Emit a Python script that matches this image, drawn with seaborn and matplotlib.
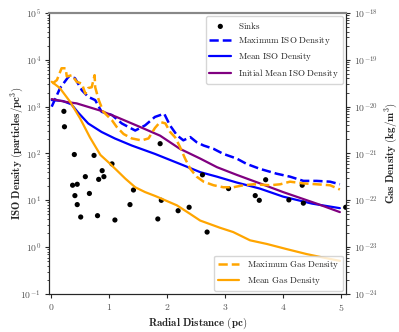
import numpy as np
import matplotlib
matplotlib.use("Agg")
import matplotlib.pyplot as plt
from matplotlib.ticker import FuncFormatter, FixedLocator, LogLocator
import seaborn as sns

sns.set_style("ticks")
plt.rcParams["mathtext.fontset"] = "cm"
plt.rcParams["font.family"] = ["DejaVu Serif"]

# ---- Data ----
# Sinks (radial distance pc, ISO density particles/pc^3)
sink_r = [0.22, 0.23, 0.37, 0.40, 0.41, 0.45, 0.45, 0.51, 0.59, 0.66, 0.74, 0.80, 0.82,
          0.88, 0.91, 1.05, 1.10, 1.36, 1.42, 1.84, 1.88, 1.90, 2.19, 2.38, 2.61, 2.69,
          3.06, 3.52, 3.59, 3.70, 4.10, 4.33, 4.35, 5.08]
sink_rho = [794, 372, 21, 95, 12.6, 22, 8.1, 4.4, 32, 14, 91, 4.7, 28,
            43, 32, 60, 3.8, 8.1, 16.6, 4.0, 162, 10, 6.0, 7.1, 35, 2.1,
            17.8, 12.6, 10, 27.5, 10.2, 21, 8.7, 7.1]

# Maximum ISO density
max_iso_r = [0.01, 0.155, 0.30, 0.41, 0.53, 0.64, 0.76, 0.87, 1.05, 1.22, 1.45, 1.62, 1.79,
             1.95, 2.05, 2.17, 2.28, 2.40, 2.51, 2.63, 2.80, 2.97, 3.20, 3.37, 3.60, 3.89,
             4.12, 4.35, 4.58, 4.81, 4.98]
max_iso = [1000, 2500, 4370, 4070, 2240, 1620, 1380, 776, 661, 437, 309, 398, 603,
           708, 398, 245, 191, 224, 174, 148, 126, 98, 78, 60, 47, 37,
           32, 26, 26, 25, 22]

# Mean ISO density
mean_iso_r = [0.01, 0.20, 0.35, 0.47, 0.64, 0.87, 1.10, 1.39, 1.79, 2.28, 2.57, 2.86,
              3.20, 3.60, 4.00, 4.50, 4.98]
mean_iso = [1380, 1320, 1120, 740, 437, 288, 209, 148, 98, 56, 40, 32,
            24, 17.8, 12.0, 8.5, 6.8]

# Initial mean ISO density
init_iso_r = [0.01, 0.26, 0.44, 0.84, 1.13, 1.53, 1.88, 2.22, 2.57, 2.86, 3.20, 3.60,
              4.00, 4.58, 4.98]
init_iso = [1450, 1260, 1175, 830, 600, 370, 240, 126, 78, 51, 35, 23,
            15, 8.5, 5.6]

# Maximum gas density (kg/m^3)
max_gas_r = [0.02, 0.10, 0.18, 0.25, 0.27, 0.36, 0.44, 0.53, 0.59, 0.64, 0.70, 0.75, 0.76,
             0.82, 0.90, 1.05, 1.13, 1.25, 1.39, 1.56, 1.68, 1.79, 1.88, 1.97, 2.05, 2.14,
             2.22, 2.31, 2.40, 2.51, 2.63, 2.80, 2.97, 3.14, 3.32, 3.49, 3.78, 3.95, 4.12,
             4.35, 4.58, 4.81, 4.98]
max_gas = [3.1e-20, 3.7e-20, 6.6e-20, 6.6e-20, 4.4e-20, 4.7e-20, 3.4e-20, 3.1e-20, 1.9e-20,
           2.5e-20, 2.6e-20, 4.7e-20, 2.6e-20, 1.4e-20, 7.8e-21, 5.1e-21, 3.7e-21, 2.6e-21,
           2.1e-21, 1.9e-21, 2.1e-21, 3.5e-21, 4.7e-21, 4.4e-21, 2.9e-21, 2.2e-21, 1.4e-21,
           7.8e-22, 4.7e-22, 3.2e-22, 2.5e-22, 2.1e-22, 1.9e-22, 1.9e-22, 2.1e-22, 2.2e-22,
           2.1e-22, 2.2e-22, 2.5e-22, 2.3e-22, 2.2e-22, 2.1e-22, 1.7e-22]

# Mean gas density (kg/m^3)
mean_gas_r = [0.01, 0.15, 0.33, 0.50, 0.67, 0.85, 1.00, 1.13, 1.28, 1.45, 1.62, 1.80,
              2.17, 2.40, 2.57, 2.91, 3.14, 3.43, 3.72, 4.06, 4.41, 4.69, 4.98]
mean_gas = [3.4e-20, 2.5e-20, 1.26e-20, 5.6e-21, 2.2e-21, 9.3e-22, 6.3e-22, 4.4e-22,
            2.9e-22, 1.9e-22, 1.5e-22, 1.23e-22, 7.8e-23, 5.1e-23, 3.7e-23, 2.6e-23,
            2.1e-23, 1.4e-23, 1.17e-23, 9.1e-24, 7.1e-24, 6.0e-24, 5.1e-24]

x_ticks = [0, 1, 2, 3, 4, 5]
iso_ticks = [1e-1, 1e0, 1e1, 1e2, 1e3, 1e4, 1e5]
gas_ticks = [1e-24, 1e-23, 1e-22, 1e-21, 1e-20, 1e-19, 1e-18]

# ---- Figure ----
fig = plt.figure(figsize=(3.99, 3.32), dpi=100)
ax = fig.add_axes([0.1216, 0.1145, 0.7455, 0.8464])
ax2 = ax.twinx()
ax.set_yscale("log")
ax2.set_yscale("log")

sns.scatterplot(x=sink_r, y=sink_rho, ax=ax, color="black", s=14, edgecolor="none",
                label=r"$\mathrm{Sinks}$", zorder=3)
sns.lineplot(x=max_iso_r, y=max_iso, ax=ax, color="blue", linestyle="--", lw=1.8,
             label=r"$\mathrm{Maximum\ ISO\ Density}$")
sns.lineplot(x=mean_iso_r, y=mean_iso, ax=ax, color="blue", lw=1.6,
             label=r"$\mathrm{Mean\ ISO\ Density}$")
sns.lineplot(x=init_iso_r, y=init_iso, ax=ax, color="purple", lw=1.6,
             label=r"$\mathrm{Initial\ Mean\ ISO\ Density}$")

sns.lineplot(x=max_gas_r, y=max_gas, ax=ax2, color="orange", linestyle="--", lw=1.8,
             label=r"$\mathrm{Maximum\ Gas\ Density}$")
sns.lineplot(x=mean_gas_r, y=mean_gas, ax=ax2, color="orange", lw=1.6,
             label=r"$\mathrm{Mean\ Gas\ Density}$")

ax.set_xlim(-0.045, 5.085)
ax.set_ylim(1e-1, 1e5)
ax2.set_ylim(1e-24, 1e-18)

ax.xaxis.set_major_locator(FixedLocator(x_ticks))
ax.xaxis.set_major_formatter(FuncFormatter(lambda v, _: f"${int(round(v))}$"))
logfmt = FuncFormatter(lambda v, _: f"$10^{{{int(round(np.log10(v)))}}}$")
for a, t in ((ax, iso_ticks), (ax2, gas_ticks)):
    a.yaxis.set_major_locator(FixedLocator(t))
    a.yaxis.set_minor_locator(LogLocator(base=10, subs=np.arange(2, 10), numticks=15))
    a.yaxis.set_major_formatter(logfmt)
    a.yaxis.set_minor_formatter(FuncFormatter(lambda v, _: ""))
    a.tick_params(labelsize=7, labelcolor="#555555", length=3, width=0.8, pad=2.5)
    a.tick_params(which="minor", length=1.8, width=0.6)
    a.spines["top"].set_color("#888888")
    a.spines["top"].set_linewidth(1.5)

ax.set_xlabel(r"$\mathbf{Radial\ Distance\ (pc)}$", fontsize=7.9, labelpad=2)
ax.set_ylabel(r"$\mathbf{ISO\ Density\ (particles/pc^3)}$", fontsize=7.9)
ax2.set_ylabel(r"$\mathbf{Gas\ Density\ (kg/m^3)}$", fontsize=7.9)
ax.yaxis.set_label_coords(-0.076, 0.5)
ax2.yaxis.set_label_coords(1.124, 0.5)

ax.legend(loc="upper right", fontsize=6.5, handlelength=2.4, labelspacing=0.45,
          borderaxespad=0.35)
ax2.legend(loc="lower right", fontsize=6.5, handlelength=2.4, labelspacing=0.45,
           borderaxespad=0.35)

fig.savefig("out.png", dpi=100)
